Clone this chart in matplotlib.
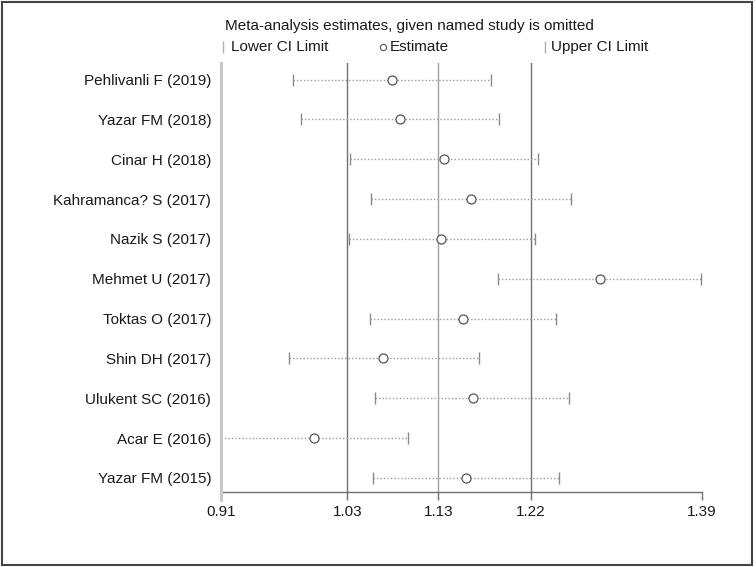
import matplotlib
matplotlib.use("Agg")
import matplotlib.pyplot as plt
from matplotlib.lines import Line2D
from matplotlib.patches import Rectangle

# Datos (influencia: estimación omitiendo cada estudio)
estudios = ["Pehlivanli F (2019)", "Yazar FM (2018)", "Cinar H (2018)",
            "Kahramanca? S (2017)", "Nazik S (2017)", "Mehmet U (2017)",
            "Toktas O (2017)", "Shin DH (2017)", "Ulukent SC (2016)",
            "Acar E (2016)", "Yazar FM (2015)"]
estimacion = [1.081, 1.089, 1.133, 1.159, 1.130, 1.288, 1.151, 1.072, 1.161, 1.003, 1.154]
ic_inferior = [0.982, 0.990, 1.039, 1.060, 1.038, 1.186, 1.059, 0.978, 1.064, 0.910, 1.062]
ic_superior = [1.179, 1.187, 1.226, 1.259, 1.223, 1.389, 1.244, 1.167, 1.257, 1.097, 1.247]

# Estimación global (líneas verticales)
global_inf = 1.036
global_est = 1.127
global_sup = 1.219
x_min = 0.91
x_max = 1.39

ticks = [x_min, global_inf, global_est, global_sup, x_max]
tick_labels = ["0.91", "1.03", "1.13", "1.22", "1.39"]

W, H = 756, 567
plt.rcParams["font.family"] = ["Liberation Sans", "DejaVu Sans"]
fig = plt.figure(figsize=(W / 100, H / 100), dpi=100)
fig.patch.set_facecolor("white")

def fx(px):
    return px / W

def fy(py):
    return 1 - py / H

ax = fig.add_axes([fx(221), fy(492), fx(702) - fx(221), fy(63) - fy(492)])

filas = list(range(len(estudios)))

# Líneas verticales de la estimación global
ax.axvline(global_inf, color="#707070", lw=1.0, zorder=1)
ax.axvline(global_est, color="#a0a0a0", lw=1.0, zorder=1)
ax.axvline(global_sup, color="#707070", lw=1.0, zorder=1)

# Intervalos de confianza punteados
for y, lo, hi in zip(filas, ic_inferior, ic_superior):
    ax.plot([lo, hi], [y, y], color="#9a9a9a", lw=1.0, ls=(0, (1, 1.5)), zorder=2)
ax.plot(ic_inferior, filas, ls="none", marker="|", ms=9, mew=1.0, color="#8a8a8a", zorder=3)
ax.plot(ic_superior, filas, ls="none", marker="|", ms=9, mew=1.0, color="#8a8a8a", zorder=3)
ax.plot(estimacion, filas, ls="none", marker="o", ms=6.5, mfc="white", mec="#555555", mew=0.9, zorder=4)

ax.set_xlim(x_min, x_max)
ax.set_ylim((492 - 79.5) / 39.85, (63 - 79.5) / 39.85)

ax.set_yticks(filas)
ax.set_yticklabels(estudios, fontsize=11, color="#1a1a1a")
ax.tick_params(axis="y", length=0, pad=7)

ax.set_xticks(ticks)
ax.set_xticklabels(tick_labels, fontsize=11, color="#1a1a1a")
ax.tick_params(axis="x", length=6, width=1.0, color="#707070", pad=3)

for s in ["top", "right", "left"]:
    ax.spines[s].set_visible(False)
ax.spines["bottom"].set_color("#707070")
ax.spines["bottom"].set_linewidth(1.0)

# Eje y gris claro que baja un poco por debajo del eje x
ax.plot([x_min, x_min], [(63 - 79.5) / 39.85, (500 - 79.5) / 39.85],
        color="#c8c8c8", lw=2.2, clip_on=False, zorder=5)

# Título y leyenda
fig.text(fx(225), fy(26), "Meta-analysis estimates, given named study is omitted",
         fontsize=11, color="#1a1a1a", va="center", ha="left")
fig.add_artist(Line2D([fx(223)], [fy(47)], marker="|", ms=8, mew=1.0, color="#b0b0b0", ls="none"))
fig.text(fx(231), fy(47), "Lower CI Limit", fontsize=11, color="#1a1a1a", va="center", ha="left")
fig.add_artist(Line2D([fx(383)], [fy(47)], marker="o", ms=4.5, mfc="white", mec="#555555", mew=0.8, ls="none"))
fig.text(fx(390), fy(47), "Estimate", fontsize=11, color="#1a1a1a", va="center", ha="left")
fig.add_artist(Line2D([fx(545)], [fy(47)], marker="|", ms=8, mew=1.0, color="#b0b0b0", ls="none"))
fig.text(fx(551), fy(47), "Upper CI Limit", fontsize=11, color="#1a1a1a", va="center", ha="left")

# Marco exterior
fig.add_artist(Rectangle((fx(1.5), fy(565)), fx(752) - fx(1.5), fy(1.5) - fy(565),
                         fill=False, edgecolor="#444444", lw=1.5))

fig.savefig("out.png", dpi=100)
